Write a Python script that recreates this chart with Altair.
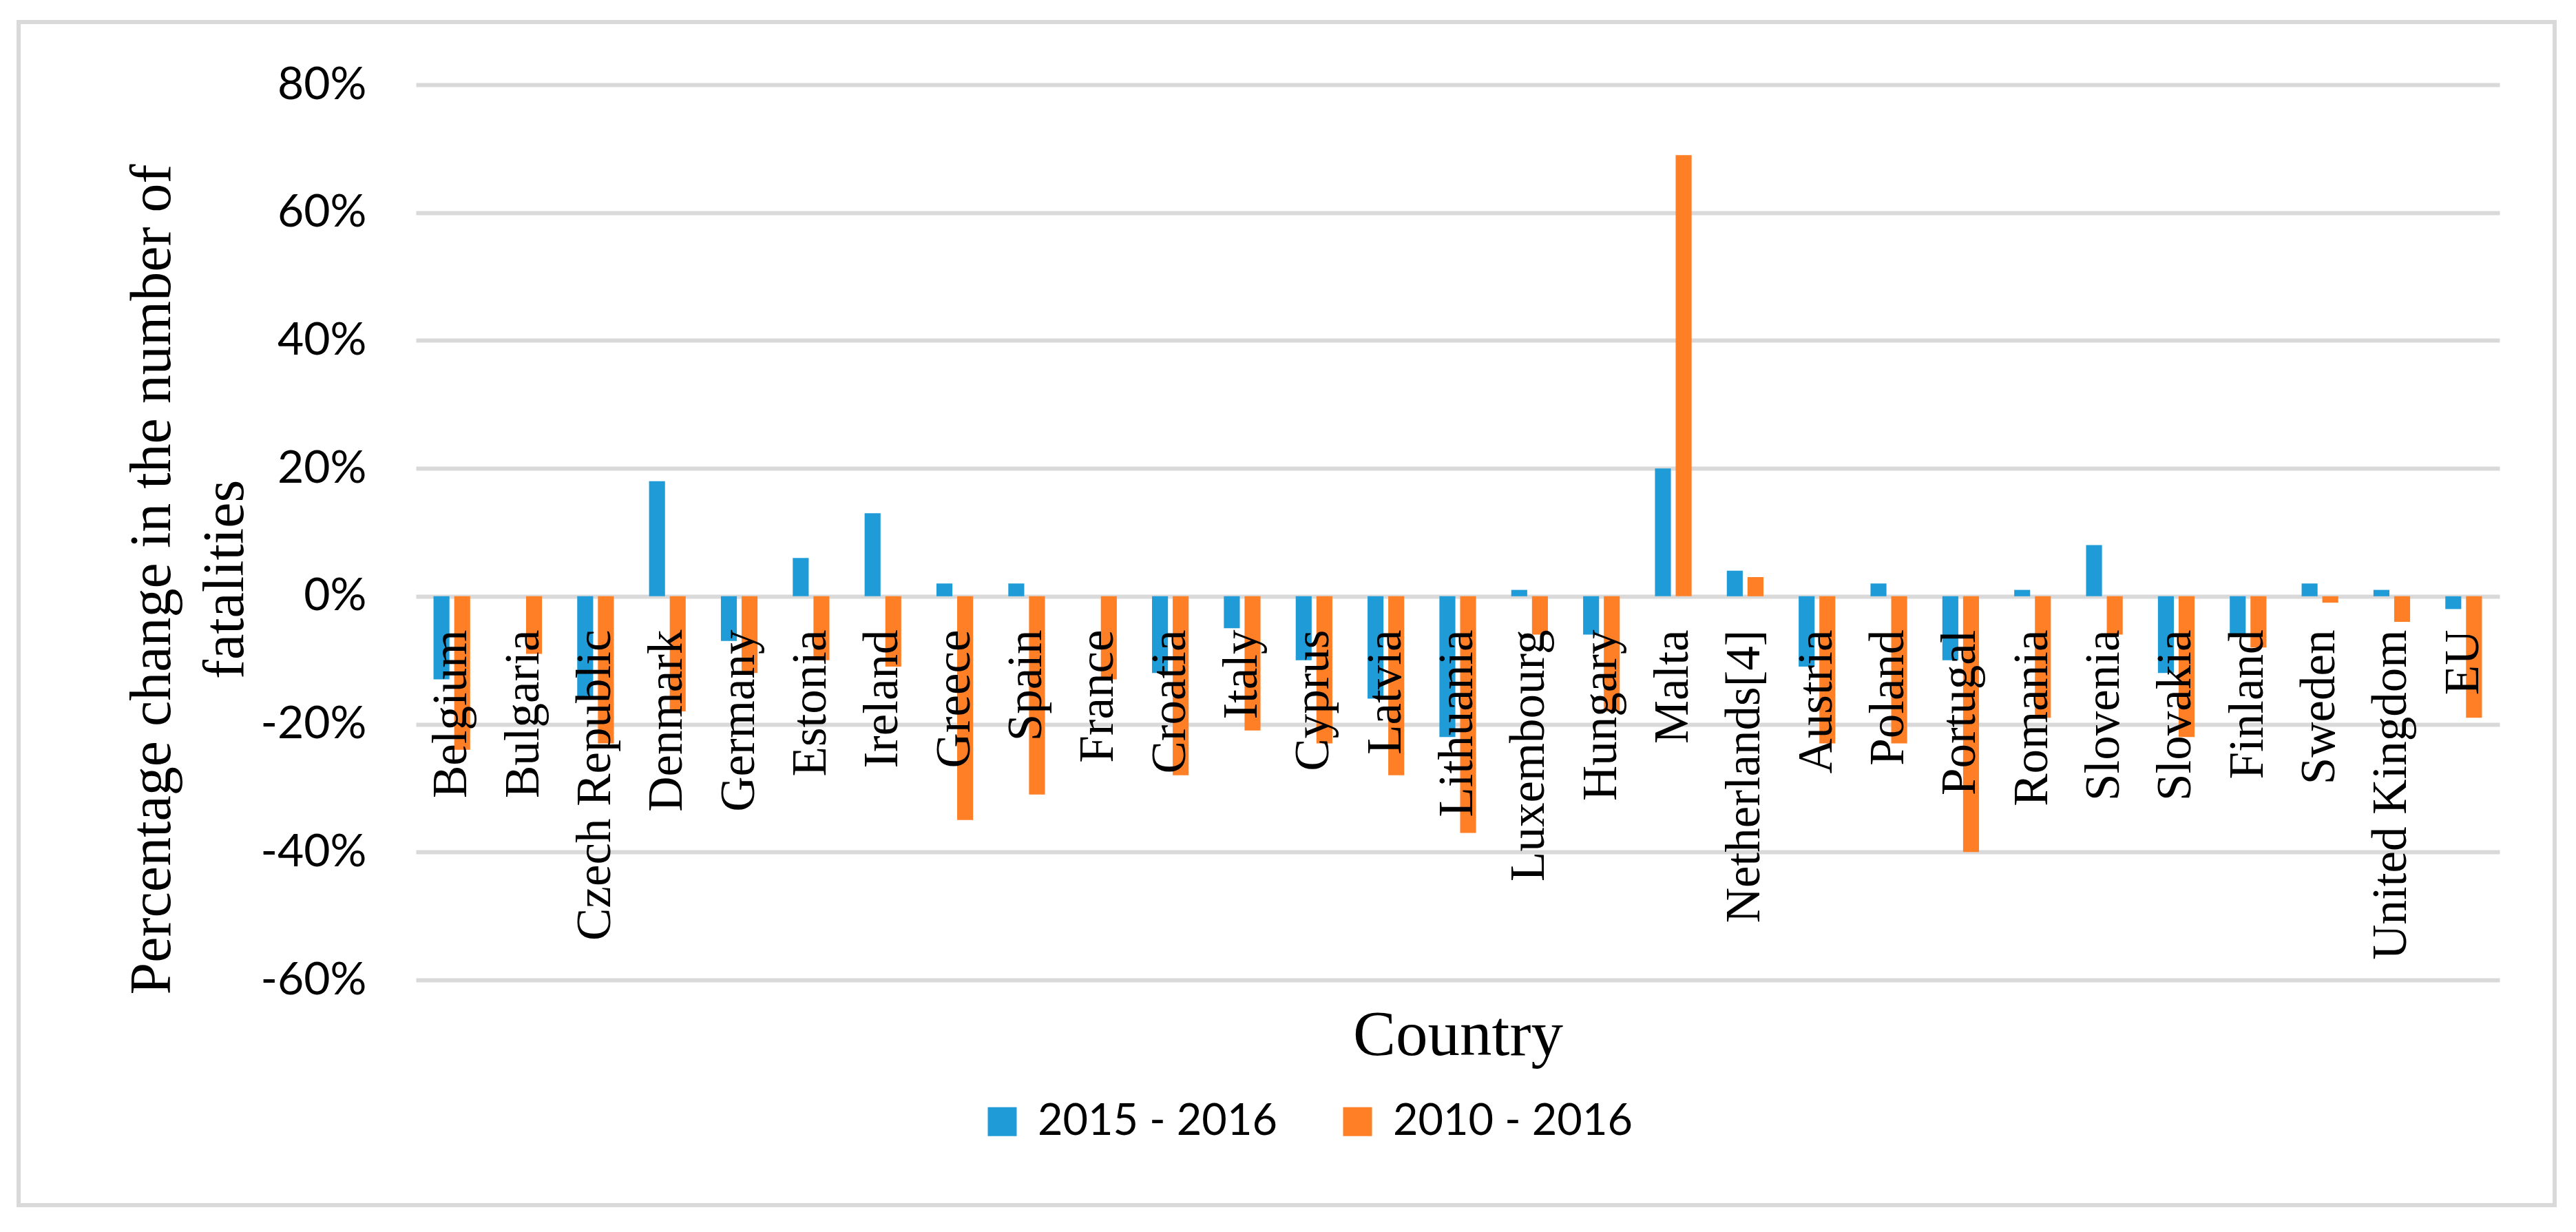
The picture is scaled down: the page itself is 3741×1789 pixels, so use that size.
import altair as alt
import pandas as pd

countries = ["Belgium", "Bulgaria", "Czech Republic", "Denmark", "Germany", "Estonia",
             "Ireland", "Greece", "Spain", "France", "Croatia", "Italy", "Cyprus", "Latvia",
             "Lithuania", "Luxembourg", "Hungary", "Malta", "Netherlands[4]", "Austria",
             "Poland", "Portugal", "Romania", "Slovenia", "Slovakia", "Finland", "Sweden",
             "United Kingdom", "EU"]
series_names = ["2015 - 2016", "2010 - 2016"]
change_2015_2016 = [-13, 0, -16, 18, -7, 6, 13, 2, 2, 0, -12, -5, -10, -16, -22, 1, -6, 20, 4,
                    -11, 2, -10, 1, 8, -12, -6, 2, 1, -2]
change_2010_2016 = [-24, -9, -23, -18, -12, -10, -11, -35, -31, -13, -28, -21, -23, -28, -37,
                    -6, -18, 69, 3, -23, -23, -40, -19, -6, -22, -8, -1, -4, -19]
y_ticks = [-0.6, -0.4, -0.2, 0.0, 0.2, 0.4, 0.6, 0.8]
colors = ["#1f9cd8", "#ff7f27"]

rows = []
for c, a, b in zip(countries, change_2015_2016, change_2010_2016):
    rows.append({"Country": c, "Period": series_names[0], "Value": a / 100})
    rows.append({"Country": c, "Period": series_names[1], "Value": b / 100})
df = pd.DataFrame(rows)

SERIF = "Liberation Serif"
SANS = "Lato"

bars = alt.Chart(df).mark_bar().encode(
    x=alt.X(
        "Country:N",
        sort=countries,
        scale=alt.Scale(paddingInner=0.49, paddingOuter=0.245),
        axis=alt.Axis(
            title="Country",
            titleFont=SERIF, titleFontSize=93, titleFontWeight="normal", titleColor="black",
            titleY=665, titleBaseline="alphabetic",
            labelAngle=270, labelFont=SERIF, labelFontSize=71, labelColor="black",
            labelPadding=48, labelLimit=0, labelOverlap=False,
            offset=-557, zindex=1, domain=False, ticks=False, grid=False,
        ),
    ),
    xOffset=alt.XOffset("Period:N", sort=series_names,
                        scale=alt.Scale(paddingInner=0.23, paddingOuter=0)),
    y=alt.Y(
        "Value:Q",
        scale=alt.Scale(domain=[-0.6, 0.8], nice=False, zero=True),
        axis=alt.Axis(
            values=y_ticks,
            labelExpr="(datum.value < 0 ? '-' : '') + format(abs(datum.value), '.0%')",
            title=["Percentage change in the number of", "fatalities"],
            titleFont=SERIF, titleFontSize=84, titleFontWeight="normal", titleColor="black",
            titleLineHeight=106, titlePadding=34, titleY=718,
            labelFont=SANS, labelFontSize=66, labelColor="black", labelPadding=72,
            domain=False, ticks=False, grid=True, gridColor="#d9d9d9", gridWidth=6,
        ),
    ),
    color=alt.Color(
        "Period:N", sort=series_names,
        scale=alt.Scale(domain=series_names, range=colors),
        legend=alt.Legend(
            title=None, orient="none", legendX=820, legendY=1474, direction="horizontal",
            symbolType="square", symbolSize=1764, symbolStrokeWidth=0,
            labelFont=SANS, labelFontSize=63, labelColor="black", labelOffset=20,
            columnPadding=85, labelLimit=0,
        ),
    ),
)

frame = alt.Chart(pd.DataFrame({"k": [0]})).mark_rect(
    fill="white", fillOpacity=0, stroke="#d9d9d9", strokeWidth=6
).encode(
    x=alt.value(-577), x2=alt.value(3106), y=alt.value(-91), y2=alt.value(1627)
)

chart = alt.layer(frame, bars).properties(
    width=3026, height=1300,
    autosize=alt.AutoSizeParams(type="none"),
    padding={"left": 596, "top": 115, "right": 103, "bottom": 358},
    background="white",
).configure_view(stroke=None)

chart.save("out.html", embed_options={"renderer": "svg", "actions": False})
